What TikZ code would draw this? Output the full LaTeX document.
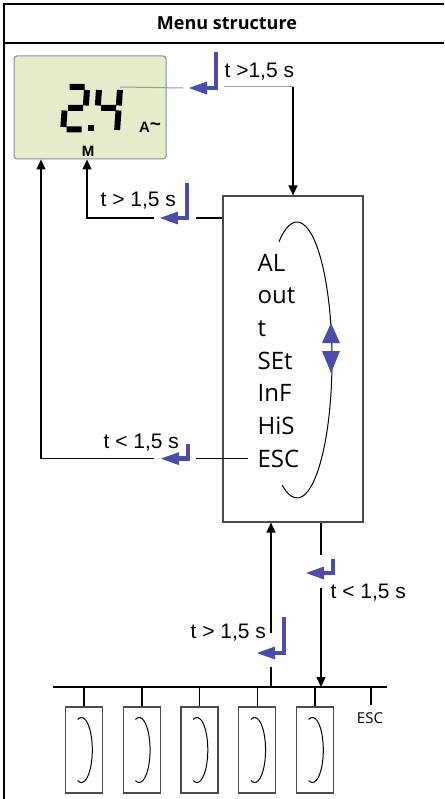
\documentclass[tikz,border=0pt]{standalone}
\usepackage{fontspec}
\setmainfont{Open Sans}
\newfontfamily\arialfont{Liberation Sans}
\usepackage{tikz}
\usetikzlibrary{arrows.meta,positioning,calc}
\definecolor{keyblue}{HTML}{4B4DA6}
\definecolor{lcdgreen}{HTML}{E3EDCC}
\definecolor{lcdgray}{HTML}{8C8C8C}
\definecolor{boxgray}{HTML}{4A4A4A}
\definecolor{leadgray}{HTML}{9A9A9A}
\newcommand{\enterkey}[2]{%
  \draw[keyblue,line width=4.5pt] ([yshift=#2pt]#1) -- (#1) -- ([xshift=-12pt]#1);
  \fill[keyblue] ([xshift=-27pt]#1) -- ([shift={(-9pt,6.5pt)}]#1) -- ([shift={(-9pt,-6.5pt)}]#1) -- cycle;}

\begin{document}
\begin{tikzpicture}[x=1pt,y=-1pt,>={Triangle[length=10pt,width=9pt]},node distance=57.75pt,
  line width=1.3pt,
  lcd node/.style={rectangle,rounded corners=3pt,fill=lcdgreen,draw=lcdgray,line width=1pt,
        minimum width=152pt,minimum height=103pt,inner sep=0pt},
        lcd text/.style={font=\arialfont\bfseries\fontsize{15}{15}\selectfont,inner sep=0pt},
        menu node/.style={rectangle,draw=boxgray,line width=1.2pt,minimum width=140pt,minimum height=326pt,inner sep=0pt},
        item node/.style={anchor=base west,inner sep=0pt,font=\fontsize{24}{24}\selectfont},
        sub node/.style={rectangle,draw=boxgray,line width=1.2pt,minimum width=37pt,minimum height=86pt,inner sep=0pt},
        time node/.style={anchor=base west,inner sep=0pt,font=\arialfont\fontsize{21}{21}\selectfont},
        frame line/.style={line width=2.4pt},
        lead line/.style={draw=leadgray,line width=1pt}]
  \useasboundingbox (0,0) rectangle (444,799);
  \draw[frame line] (4,799) -- (4,4) -- (444,4);
  \draw[frame line] (4,43) -- (444,43);
  \node[font=\bfseries\fontsize{18}{21}\selectfont] (title) at (227,23) {Menu structure};

  \node[lcd node] (lcd) at (90,107.5) {};
  \begin{scope}[shift={(63,132)},xslant=0.07,line width=6pt]
    \draw (3.5,-45) -- (18.5,-45) (21,-42) -- (21,-26.5) (3.5,-24) -- (18.5,-24)
          (0,-21.5) -- (0,-5) (3.5,-2.5) -- (18.5,-2.5);
  \end{scope}
  \begin{scope}[shift={(96,132)},xslant=0.07,line width=6pt]
    \draw (0,-42) -- (0,-26.5) (3.5,-24) -- (18.5,-24) (21,-42) -- (21,-26.5) (21,-21.5) -- (21,-2);
  \end{scope}
  \fill (88,125) rectangle (94,131);
  \node[lcd text] (unit) at (150,127) {A\raisebox{1.5pt}{\fontsize{19}{19}\selectfont\textasciitilde}};
  \node[lcd text] (mem) at (88,151) {M};

  \node[menu node] (menu) at (293,359) {};
  \foreach \lbl [count=\i from 0] in {AL,out,t,SEt,InF,HiS,ESC}
    \node[item node] (\lbl) at (257,{271+32.7*\i}) {\lbl};
  \coordinate (oval) at (297,360);
  \draw[line width=1pt] ($(oval)+(-121:35 and 138)$) arc[start angle=-121,end angle=115,x radius=35,y radius=138];
  \fill[keyblue] (331,323) -- (340,343) -- (322,343) -- cycle;
  \fill[keyblue] (322,351) -- (340,351) -- (331,373) -- cycle;

  \node[sub node] (s1) at (84,750) {};
  \node[sub node] (s2) [right of=s1] {};
  \node[sub node] (s3) [right of=s2] {};
  \node[sub node] (s4) [right of=s3] {};
  \node[sub node] (s5) [right of=s4] {};
  \coordinate (busL) at (53,687);
  \coordinate (busR) at (387,687);
  \coordinate (esctick) at (371,705);
  \draw[line width=1.5pt] (busL) -- (busR);
  \foreach \s in {s1,s2,s3,s4,s5} {
    \draw[line width=1.5pt] (\s.north) -- (\s.north |- busL);
    \draw[line width=1pt] ($(\s.center)+(-2.6,0)+(-110:10.9 and 32.5)$) arc[start angle=-110,end angle=110,x radius=10.9,y radius=32.5];
  }
  \draw[line width=1.5pt] (esctick) -- (esctick |- busL);
  \node[anchor=base,inner sep=0pt,font=\fontsize{15}{15}\selectfont] (escsub) at (370,723) {ESC};

  \coordinate (dig) at (120,87);
  \coordinate (k1) at (216,88);
  \coordinate (k2) at (187,218);
  \coordinate (k3) at (ESC.west -| 188,0);
  \coordinate (k4) at (284,653);
  \coordinate (k5) at (333,573);
  \coordinate (up) at (271,687);
  \coordinate (dn) at (321,687);
  \coordinate (b1) at (224,87);
  \coordinate (c1) at (b1 -| menu.north);

  \draw[lead line] (dig) -- ([xshift=-33pt]k1);
  \draw[lead line] (b1) -- (c1);
  \draw[->] (c1) -- (menu.north);
  \draw (k2 -| menu.west) -- ([xshift=9pt]k2);
  \draw[->] ([xshift=-33pt]k2) -| ([xshift=-3pt]lcd.south);
  \draw ([xshift=-9pt]ESC.west) -- ([xshift=8pt]k3);
  \draw[->] ([xshift=-34pt]k3) -| ([xshift=-49pt]lcd.south);
  \draw (up) -- ([yshift=20pt]up);
  \draw[->] ([yshift=54pt]up) -- (up |- menu.south);
  \draw (dn |- menu.south) -- ([yshift=132pt]dn);
  \draw[->] ([yshift=99pt]dn) -- (dn);

  \enterkey{k1}{36}
  \enterkey{k2}{35}
  \enterkey{k3}{15}
  \enterkey{k4}{36}
  \enterkey{k5}{14}

  \node[time node] (t1) at (224,78) {t >1,5 s};
  \node[time node] (t2) at (100,207) {t > 1,5 s};
  \node[time node] (t3) at (103,448) {t < 1,5 s};
  \node[time node] (t4) at (190,638) {t > 1,5 s};
  \node[time node] (t5) at (330,598) {t < 1,5 s};
\end{tikzpicture}
\end{document}
